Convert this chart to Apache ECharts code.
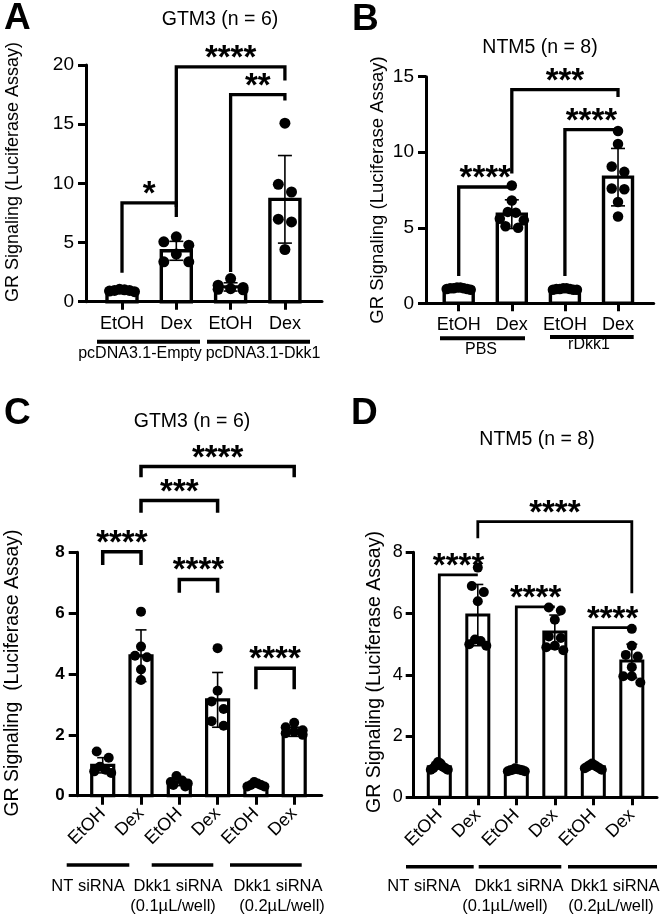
<!DOCTYPE html>
<html>
<head>
<meta charset="utf-8">
<script src="https://cdn.jsdelivr.net/npm/echarts@6/dist/echarts.min.js"></script>
<style>
html,body{margin:0;padding:0;background:#fff;}
#c{width:664px;height:916px;}
</style>
</head>
<body>
<div id="c"></div>
<script>
// ---------------- DATA ----------------
// Panel A : GTM3 (n = 6)
const catsA = ['EtOH', 'Dex', 'EtOH', 'Dex'];
const groupsA = ['pcDNA3.1-Empty', 'pcDNA3.1-Dkk1'];
const meanA = [0.95, 4.3, 1.25, 8.65];
const sdA = [0.1, 0.8, 0.35, 3.7];
const ptsA = [
  [0.95, 1.05, 1.0, 0.9, 0.85, 0.95],
  [5.06, 5.48, 4.78, 4.02, 3.37, 3.37],
  [1.95, 1.4, 1.2, 1.1, 1.0, 1.05],
  [15.08, 9.92, 9.27, 6.97, 6.74, 4.41]
];
const bracketsA = [[0, 1, 8.35, 2.45, 7.15], [2, 3, 17.5, 2.5, 17.0], [1, 3, 19.85, 8.0, 18.7]];
const starsA = ['*', '**', '****'];

// Panel B : NTM5 (n = 8)
const catsB = ['EtOH', 'Dex', 'EtOH', 'Dex'];
const groupsB = ['PBS', 'rDkk1'];
const meanB = [1.0, 5.9, 0.95, 8.35];
const sdB = [0.05, 0.95, 0.05, 1.9];
const ptsB = [
  [0.95, 1.0, 1.05, 0.9, 1.0, 1.05, 0.95, 1.0],
  [7.8, 6.8, 6.05, 6.0, 5.6, 5.5, 5.1, 5.0],
  [0.9, 0.95, 1.0, 0.95, 0.9, 1.0, 0.95, 0.9],
  [11.4, 10.55, 9.05, 8.7, 7.6, 7.55, 6.7, 5.75]
];
const bracketsB = [[0, 1, 7.7, 1.8, 7.7], [2, 3, 11.5, 1.8, 11.5], [1, 3, 14.15, 8.6, 13.65]];
const starsB = ['****', '****', '***'];

// Panel C : GTM3 (n = 6)
const catsC = ['EtOH', 'Dex', 'EtOH', 'Dex', 'EtOH', 'Dex'];
const groupsC = ['NT siRNA', 'Dkk1 siRNA', '(0.1µL/well)', 'Dkk1 siRNA', '(0.2µL/well)'];
const meanC = [1.0, 4.6, 0.45, 3.15, 0.35, 2.1];
const sdC = [0.25, 0.85, 0.12, 0.9, 0.05, 0.15];
const ptsC = [
  [1.45, 1.25, 0.95, 0.85, 0.8, 0.75],
  [6.05, 4.9, 4.6, 4.55, 4.15, 3.8],
  [0.65, 0.5, 0.45, 0.4, 0.35, 0.3],
  [4.85, 3.45, 3.1, 2.85, 2.45, 2.3],
  [0.45, 0.4, 0.35, 0.35, 0.3, 0.3],
  [2.4, 2.25, 2.15, 2.1, 2.05, 2.0]
];
const bracketsC = [[1, 5, 10.82, 10.47, 10.47], [1, 3, 9.7, 9.3, 9.3], [0, 1, 8.02, 7.58, 7.58], [2, 3, 7.11, 6.67, 6.67], [4, 5, 4.19, 3.5, 3.5]];
const starsC = ['****', '***', '****', '****', '****'];

// Panel D : NTM5 (n = 8)
const catsD = ['EtOH', 'Dex', 'EtOH', 'Dex', 'EtOH', 'Dex'];
const groupsD = ['NT siRNA', 'Dkk1 siRNA', '(0.1µL/well)', 'Dkk1 siRNA', '(0.2µL/well)'];
const meanD = [1.0, 5.95, 0.9, 5.4, 1.0, 4.45];
const sdD = [0.08, 1.0, 0.05, 0.55, 0.07, 0.55];
const ptsD = [
  [1.15, 1.1, 1.05, 1.0, 0.95, 0.95, 0.9, 0.9],
  [7.5, 6.9, 6.7, 6.4, 5.15, 5.1, 5.0, 4.95],
  [0.95, 0.92, 0.9, 0.9, 0.88, 0.88, 0.85, 0.85],
  [6.2, 6.1, 5.8, 5.25, 5.2, 4.95, 4.9, 4.8],
  [1.1, 1.05, 1.05, 1.0, 1.0, 0.95, 0.95, 0.9],
  [5.5, 4.95, 4.65, 4.6, 4.25, 3.95, 3.95, 3.75]
];
const bracketsD = [[0, 1, 7.26, 1.2, 7.26], [2, 3, 6.22, 1.1, 6.22], [4, 5, 5.54, 1.15, 5.54], [1, 5, 9.0, 8.46, 6.66]];
const starsD = ['****', '****', '****', '****'];

const titles = ['GTM3 (n = 6)', 'NTM5 (n = 8)', 'GTM3 (n = 6)', 'NTM5 (n = 8)'];
const yNames = ['GR Signaling (Luciferase Assay)', 'GR Signaling (Luciferase Assay)',
                'GR Signaling  (Luciferase Assay)', 'GR Signaling (Luciferase Assay)'];

// ---------------- LAYOUT ----------------
const FONT = '"Liberation Sans", Arial, Helvetica, sans-serif';
const panels = [
  { cats: catsA, mean: meanA, sd: sdA, pts: ptsA, br: bracketsA, stars: starsA,
    grid: { left: 86, top: 65, width: 236, height: 236.7 }, xMin: -0.663, xMax: 3.683, yMax: 20, yInt: 5,
    barW: 30, barLW: 3.4, dot: 11, maxHalf: 12.5, cap: 7, brLW: 3.3, axLW: 3,
    yLab: { fontSize: 19, fontWeight: 'normal', margin: 12 }, xLab: { fontSize: 18, rotate: 0, margin: 13 }, tickLen: 8 },
  { cats: catsB, mean: meanB, sd: sdB, pts: ptsB, br: bracketsB, stars: starsB,
    grid: { left: 426, top: 76.7, width: 227.7, height: 226.6 }, xMin: -0.616, xMax: 3.672, yMax: 15, yInt: 5,
    barW: 29, barLW: 3.4, dot: 10.5, maxHalf: 12, cap: 7, brLW: 3.3, axLW: 3,
    yLab: { fontSize: 19, fontWeight: 'normal', margin: 12 }, xLab: { fontSize: 18, rotate: 0, margin: 13 }, tickLen: 8 },
  { cats: catsC, mean: meanC, sd: sdC, pts: ptsC, br: bracketsC, stars: starsC,
    grid: { left: 77.7, top: 552.3, width: 244, height: 243.4 }, xMin: -0.653, xMax: 5.718, yMax: 8, yInt: 2,
    barW: 22, barLW: 3.2, dot: 10, maxHalf: 8.5, cap: 5.5, brLW: 3.5, axLW: 3,
    yLab: { fontSize: 17, fontWeight: 'bold', margin: 13 }, xLab: { fontSize: 18, rotate: 45, margin: 15 }, tickLen: 9 },
  { cats: catsD, mean: meanD, sd: sdD, pts: ptsD, br: bracketsD, stars: starsD,
    grid: { left: 413.7, top: 552.3, width: 243.3, height: 245 }, xMin: -0.665, xMax: 5.654, yMax: 8, yInt: 2,
    barW: 22, barLW: 3.0, dot: 10, maxHalf: 8.5, cap: 5.5, brLW: 2.8, axLW: 3,
    yLab: { fontSize: 18, fontWeight: 'normal', margin: 11 }, xLab: { fontSize: 18, rotate: 45, margin: 15 }, tickLen: 8 }
];

// swarm-style horizontal spreading of dots (Prism-like rows)
function swarm(vals, pxPerUnit, catPx, dot, maxHalf) {
  const idx = vals.map((v, i) => i).sort((a, b) => vals[b] - vals[a]);
  const off = new Array(vals.length).fill(0);
  let i = 0;
  while (i < idx.length) {
    const row = [idx[i]];
    const top = vals[idx[i]];
    let j = i + 1;
    while (j < idx.length && (top - vals[idx[j]]) * pxPerUnit < dot * 0.9) { row.push(idx[j]); j++; }
    const k = row.length;
    let s = dot * 1.2;
    if (k > 1) s = Math.min(s, 2 * maxHalf / (k - 1));
    const slots = [];
    for (let m = 0; m < k; m++) slots.push((m - (k - 1) / 2) * s);
    slots.sort((a, b) => Math.abs(a) - Math.abs(b) || a - b);
    row.forEach((p, n) => { off[p] = slots[n] / catPx; });
    i = j;
  }
  return off;
}

const option = {
  backgroundColor: '#fff',
  animation: false,
  grid: [], xAxis: [], yAxis: [], series: [], graphic: []
};

panels.forEach((P, pi) => {
  option.grid.push(Object.assign({ outerBoundsMode: 'none', containLabel: false }, P.grid));
  const ticks = P.cats.map((c, i) => i);
  option.xAxis.push({
    type: 'value', gridIndex: pi, min: P.xMin, max: P.xMax,
    splitLine: { show: false },
    axisLine: { onZero: false, lineStyle: { color: '#000', width: P.axLW } },
    axisTick: { customValues: ticks, length: P.tickLen, lineStyle: { color: '#000', width: P.axLW } },
    axisLabel: { customValues: ticks, formatter: v => P.cats[Math.round(v)], color: '#000',
      fontFamily: FONT, fontSize: P.xLab.fontSize, rotate: P.xLab.rotate, margin: P.xLab.margin }
  });
  option.yAxis.push({
    type: 'value', gridIndex: pi, min: 0, max: P.yMax, interval: P.yInt,
    splitLine: { show: false },
    axisLine: { show: true, onZero: false, lineStyle: { color: '#000', width: P.axLW } },
    axisTick: { show: true, length: P.tickLen, lineStyle: { color: '#000', width: P.axLW } },
    axisLabel: { color: '#000', fontFamily: FONT, fontSize: P.yLab.fontSize, fontWeight: P.yLab.fontWeight, margin: P.yLab.margin }
  });

  // bars
  option.series.push({
    type: 'custom', xAxisIndex: pi, yAxisIndex: pi, clip: false, z: 2,
    data: P.mean.map((m, i) => [i, m]),
    encode: { x: 0, y: 1 },
    renderItem: (params, api) => {
      const top = api.coord([api.value(0), api.value(1)]);
      const base = api.coord([api.value(0), 0]);
      return { type: 'rect', shape: { x: top[0] - P.barW / 2, y: top[1], width: P.barW, height: base[1] - top[1] },
        style: { fill: '#fff', stroke: '#000', lineWidth: P.barLW } };
    }
  });
  // error bars (mean ± SD)
  option.series.push({
    type: 'custom', xAxisIndex: pi, yAxisIndex: pi, clip: false, z: 3,
    data: P.mean.map((m, i) => [i, m, P.sd[i]]),
    encode: { x: 0, y: 1 },
    renderItem: (params, api) => {
      const x = api.value(0), m = api.value(1), s = api.value(2);
      const hi = api.coord([x, m + s]), lo = api.coord([x, m - s]);
      const st = { stroke: '#000', lineWidth: 1.6 };
      return { type: 'group', children: [
        { type: 'line', shape: { x1: hi[0], y1: hi[1], x2: lo[0], y2: lo[1] }, style: st },
        { type: 'line', shape: { x1: hi[0] - P.cap, y1: hi[1], x2: hi[0] + P.cap, y2: hi[1] }, style: st },
        { type: 'line', shape: { x1: lo[0] - P.cap, y1: lo[1], x2: lo[0] + P.cap, y2: lo[1] }, style: st }
      ] };
    }
  });
  // dots
  const pxPerUnit = P.grid.height / P.yMax;
  const catPx = P.grid.width / (P.xMax - P.xMin);
  const dots = [];
  P.pts.forEach((vals, ci) => {
    const off = swarm(vals, pxPerUnit, catPx, P.dot, P.maxHalf);
    vals.forEach((v, k) => dots.push([ci + off[k], v]));
  });
  option.series.push({
    type: 'scatter', xAxisIndex: pi, yAxisIndex: pi, clip: false, z: 4,
    symbol: 'circle', symbolSize: P.dot, itemStyle: { color: '#000', opacity: 1 },
    data: dots
  });
  // significance brackets
  option.series.push({
    type: 'custom', xAxisIndex: pi, yAxisIndex: pi, clip: false, z: 5,
    data: P.br,
    encode: { x: [0, 1], y: [2, 3, 4] },
    renderItem: (params, api) => {
      const x1 = api.value(0), x2 = api.value(1), yt = api.value(2), yl = api.value(3), yr = api.value(4);
      const pL = api.coord([x1, yl]), pLT = api.coord([x1, yt]), pRT = api.coord([x2, yt]), pR = api.coord([x2, yr]);
      return { type: 'group', children: [
        { type: 'polyline', shape: { points: [pL, pLT, pRT, pR] },
          style: { stroke: '#000', fill: null, lineWidth: P.brLW, lineJoin: 'miter', lineCap: 'butt' } },
        { type: 'text', style: { text: P.stars[params.dataIndex], x: (pLT[0] + pRT[0]) / 2, y: pLT[1] - 8,
          align: 'center', verticalAlign: 'middle', textAlign: 'center', textVerticalAlign: 'middle',
          font: 'bold 33px ' + FONT, fill: '#000' } }
      ] };
    }
  });
});

// ---------------- TEXT / DECORATIONS ----------------
function txt(text, x, y, size, opts) {
  opts = opts || {};
  return { type: 'text', x: x, y: y, rotation: opts.rot || 0, silent: true,
    style: { text: text, x: 0, y: 0, fill: '#000',
      font: (opts.bold ? 'bold ' : '') + size + 'px ' + FONT,
      align: opts.align || 'center', verticalAlign: 'middle',
      textAlign: opts.align || 'center', textVerticalAlign: 'middle' } };
}
function bar(x1, x2, y, w) {
  return { type: 'line', silent: true, shape: { x1: x1, y1: y, x2: x2, y2: y }, style: { stroke: '#000', lineWidth: w } };
}
const G = option.graphic;
// panel letters
G.push(txt('A', 4, 19, 37, { bold: true, align: 'left' }));
G.push(txt('B', 352, 20, 37, { bold: true, align: 'left' }));
G.push(txt('C', 4, 414, 37, { bold: true, align: 'left' }));
G.push(txt('D', 351, 414, 37, { bold: true, align: 'left' }));
// titles
G.push(txt(titles[0], 220, 20, 19.5));
G.push(txt(titles[1], 540, 48, 19.5));
G.push(txt(titles[2], 192, 422, 19.5));
G.push(txt(titles[3], 537, 440, 19.5));
// y-axis names
G.push(txt(yNames[0], 13, 172, 18, { rot: Math.PI / 2 }));
G.push(txt(yNames[1], 378, 190, 18.5, { rot: Math.PI / 2 }));
G.push(txt(yNames[2], 13, 673, 19.5, { rot: Math.PI / 2 }));
G.push(txt(yNames[3], 375, 672, 19.5, { rot: Math.PI / 2 }));
// group underlines + labels
G.push(bar(97, 200, 341.7, 4), bar(207, 310, 341.7, 4));
G.push(txt(groupsA[0], 140, 354, 16), txt(groupsA[1], 263, 354, 16));
G.push(bar(440, 525, 338.3, 4), bar(550, 633.7, 337, 4));
G.push(txt(groupsB[0], 481, 350, 16), txt(groupsB[1], 589, 345, 16));
G.push(bar(66.7, 129.3, 865, 3.5), bar(151.7, 213.3, 865, 3.5), bar(230, 301.7, 865, 3.5));
G.push(txt(groupsC[0], 88, 886, 16.5), txt(groupsC[1], 178, 886, 16.5), txt(groupsC[2], 173, 906, 16.5),
       txt(groupsC[3], 278, 886, 16.5), txt(groupsC[4], 282, 906, 16.5));
G.push(bar(406, 473.7, 866.7, 3.5), bar(478.7, 561.3, 866.7, 3.5), bar(568, 657, 866.7, 3.5));
G.push(txt(groupsD[0], 424, 886, 16.5), txt(groupsD[1], 519, 886, 16.5), txt(groupsD[2], 505, 906, 16.5),
       txt(groupsD[3], 615, 886, 16.5), txt(groupsD[4], 611, 906, 16.5));

const chart = echarts.init(document.getElementById('c'), null, { renderer: 'canvas' });
chart.setOption(option);
</script>
</body>
</html>
